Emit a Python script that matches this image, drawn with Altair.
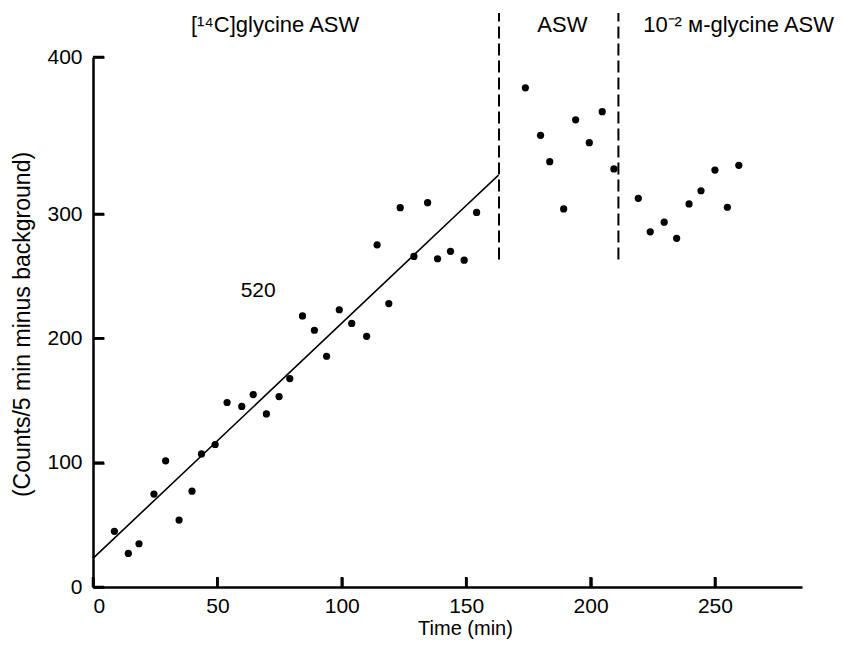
import altair as alt
import pandas as pd

# ---- data ----
# [14C]glycine ASW period
t_glycine = [8.6, 14.2, 18.5, 24.5, 29.2, 34.6, 39.8, 43.6, 49.1, 53.9, 59.8, 64.4, 69.7, 74.8, 79.1,
             84.2, 89.0, 93.9, 99.0, 104.0, 110.0, 114.2, 118.9, 123.5, 129.0, 134.5, 138.5, 143.7, 149.2, 154.2]
v_glycine = [44.8, 27, 34.8, 74.7, 101.5, 53.8, 77.1, 107, 114.6, 148.4, 145.2, 154.8, 139.2, 153.2, 167.6,
             218, 206.5, 185.6, 223, 212, 201.6, 275.2, 228, 304, 265.9, 307.2, 264, 270, 262.9, 301]
# ASW wash period
t_asw = [173.8, 179.9, 183.6, 189.2, 194.0, 199.5, 204.7, 209.4]
v_asw = [380.4, 350.1, 333.3, 303.2, 360, 345.4, 365.2, 328.7]
# 10^-2 M glycine ASW period
t_cold = [219.2, 224.0, 229.6, 234.6, 239.6, 244.4, 250.0, 255.0, 259.6]
v_cold = [310, 285.7, 293.4, 280.4, 306.4, 314.8, 328, 304.3, 331]

# fitted line (straight on the printed figure)
fit_t = [0, 146.4, 163]
fit_v = [23, 300, 324.8]

# period boundaries (dashed)
bound_t = [163.2, 211.2]
bound_lo = [263.5, 263.5]
bound_hi = [428, 428]

# period headings
head_text = ["[¹⁴C]glycine ASW", "ASW", "10⁻² ᴍ-glycine ASW"]
head_t = [73.2, 188.7, 259.5]
head_v = [416, 416, 416]

# slope annotation
note_text = ["520"]
note_t = [66.4]
note_v = [238.3]

x_ticks = [0, 50, 100, 150, 200, 250]
y_ticks = [0, 100, 200, 300, 400]

pts = pd.DataFrame({"t": t_glycine + t_asw + t_cold, "v": v_glycine + v_asw + v_cold})
fit = pd.DataFrame({"t": fit_t, "v": fit_v})
bounds = pd.DataFrame({"t": bound_t, "lo": bound_lo, "hi": bound_hi})
heads = pd.DataFrame({"text": head_text, "t": head_t, "v": head_v})
notes = pd.DataFrame({"text": note_text, "t": note_t, "v": note_v})
xtick_df = pd.DataFrame({"t": x_ticks, "v": [0] * len(x_ticks)})
ytick_df = pd.DataFrame({"t": [0] * len(y_ticks), "v": y_ticks})

FONT = "Liberation Sans"
W, H = 709, 530

xscale = alt.Scale(domain=[0, 285], nice=False, zero=False)
yscale = alt.Scale(domain=[0, 300, 400], range=[H, 157, 0], nice=False, zero=False)

# main axes (labels, lines, titles)
x_axis = alt.Axis(values=x_ticks, title="Time (min)", grid=False, ticks=False,
                  domainWidth=2.5, domainColor="black", labelPadding=8,
                  labelFont=FONT, labelFontSize=21, labelColor="black",
                  titleFont=FONT, titleFontSize=20, titleFontWeight="normal", titleColor="black",
                  titleX=372, titleY=41, titleBaseline="middle")
y_axis = alt.Axis(values=y_ticks, title="(Counts/5 min minus background)", grid=False, ticks=False,
                  domainWidth=2.5, domainColor="black", labelPadding=11,
                  labelFont=FONT, labelFontSize=21, labelColor="black",
                  titleFont=FONT, titleFontSize=23, titleFontWeight="normal", titleColor="black",
                  titleX=-71, titleY=267, titleBaseline="middle", titleAngle=270)

# tick-only axes moved onto the main axis lines so that their ticks point inward
x_tick_axis = alt.Axis(orient="top", offset=-H, values=x_ticks, labels=False, domain=False,
                       ticks=True, tickSize=10, tickWidth=2.5, tickColor="black", grid=False, title=None)
y_tick_axis = alt.Axis(orient="right", offset=-W, values=y_ticks, labels=False, domain=False,
                       ticks=True, tickSize=11, tickWidth=2.5, tickColor="black", grid=False, title=None)


def X(field, axis=None):
    return alt.X(field, type="quantitative", scale=xscale, axis=axis)


def Y(field, axis=None):
    return alt.Y(field, type="quantitative", scale=yscale, axis=axis)


points = alt.Chart(pts).mark_circle(size=52, color="black", opacity=1).encode(
    x=X("t", x_axis), y=Y("v", y_axis))

line = alt.Chart(fit).mark_line(color="black", strokeWidth=1.6).encode(x=X("t"), y=Y("v"))

rules = alt.Chart(bounds).mark_rule(color="black", strokeWidth=2, strokeDash=[12, 5], clip=False).encode(
    x=X("t"), y=Y("lo"), y2="hi:Q",
)

xticks = alt.Chart(xtick_df).mark_circle(size=1, opacity=0).encode(
    x=X("t", x_tick_axis), y=Y("v"))
yticks = alt.Chart(ytick_df).mark_circle(size=1, opacity=0).encode(
    x=X("t"), y=Y("v", y_tick_axis))

# the same inward ticks drawn as short rules as well
xtick_rules = alt.Chart(xtick_df).mark_rule(color="black", strokeWidth=2.5, y2Offset=-10).encode(
    x=X("t"), y=Y("v"), y2="v:Q")
ytick_rules = alt.Chart(ytick_df).mark_rule(color="black", strokeWidth=2.5, x2Offset=11).encode(
    x=X("t"), x2="t:Q", y=Y("v"))

headings = alt.Chart(heads).mark_text(font=FONT, fontSize=22, color="black", align="center",
                                      baseline="alphabetic", clip=False).encode(
    x=X("t"), y=Y("v"), text="text:N",
)

note = alt.Chart(notes).mark_text(font=FONT, fontSize=21, color="black", align="center",
                                  baseline="middle").encode(
    x=X("t"), y=Y("v"), text="text:N",
)

chart = alt.layer(points, xticks, yticks, line, rules, xtick_rules, ytick_rules, headings, note).resolve_axis(
    x="independent", y="independent"
).properties(
    width=W, height=H,
    autosize=alt.AutoSizeParams(type="none"),
    padding={"left": 85, "top": 49, "right": 36, "bottom": 52},
    background="white",
).configure_view(stroke=None)

chart.save("out.html", embed_options={"renderer": "svg", "actions": False})
